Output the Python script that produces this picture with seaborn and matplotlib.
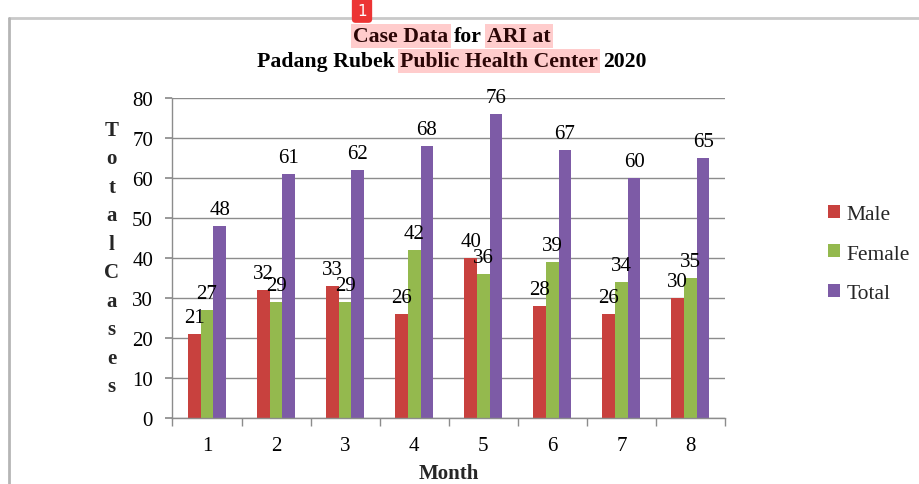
import numpy as np
import pandas as pd
import seaborn as sns
import matplotlib.pyplot as plt
from matplotlib.lines import Line2D
from matplotlib.ticker import MultipleLocator

# data
months = [1, 2, 3, 4, 5, 6, 7, 8]
male = [21, 32, 33, 26, 40, 28, 26, 30]
female = [27, 29, 29, 42, 36, 39, 34, 35]
total = [48, 61, 62, 68, 76, 67, 60, 65]
series_names = ['Male', 'Female', 'Total']
series_colors = ['#c8413e', '#94b94e', '#7d5ba6']

title_line1 = [('Case Data', True), ('for', False), ('ARI at', True)]
title_line2 = [('Padang Rubek', False), ('Public Health Center', True), ('2020', False)]
x_label = 'Month'
y_label = 'Total Cases'

df = pd.DataFrame({
    'month': months * 3,
    'series': sum([[n] * len(months) for n in series_names], []),
    'cases': male + female + total,
})

sns.set_theme(style='white')
plt.rcParams['font.family'] = ['Liberation Serif', 'DejaVu Serif']

W, H = 920, 485
fs = 15
fig = plt.figure(figsize=(W / 100, H / 100), dpi=100)
ax = fig.add_axes([172.5 / W, 1 - 419 / H, 552.5 / W, 320 / H])

sns.barplot(data=df, x='month', y='cases', hue='series', hue_order=series_names,
            palette=series_colors, width=0.55, saturation=1, linewidth=0, ax=ax)

for cont in ax.containers:
    ax.bar_label(cont, fontsize=fs, padding=5, color='black')

grey = '#8c8c8c'
ax.set_xlim(-0.5, len(months) - 0.5)
ax.set_ylim(0, 80)
ax.yaxis.set_major_locator(MultipleLocator(10))
ax.grid(axis='y', color=grey, lw=1)
ax.set_axisbelow(True)
for s in ['top', 'right']:
    ax.spines[s].set_visible(False)
for s in ['left', 'bottom']:
    ax.spines[s].set_color(grey)
    ax.spines[s].set_linewidth(1)

ax.set_xticks(np.arange(-0.5, len(months), 1), minor=True)
ax.tick_params(axis='x', which='major', length=0, pad=13, labelsize=fs, colors='black')
ax.tick_params(axis='x', which='minor', length=6, color=grey, direction='out', bottom=True)
ax.tick_params(axis='y', length=5, color=grey, direction='out', left=True,
               pad=9, labelsize=fs, colors='black')

ax.set_xlabel(x_label, fontsize=fs, fontweight='bold', labelpad=6)
ax.set_ylabel('\n'.join(y_label.replace(' ', '')), rotation=0, fontsize=fs,
              fontweight='bold', linespacing=1.57, va='center', ha='center')
ax.yaxis.set_label_coords(-0.11, 0.5)

handles, labels = ax.get_legend_handles_labels()
ax.legend(handles, labels, loc='center left', bbox_to_anchor=(828 / W, 1 - 255 / H),
          bbox_transform=fig.transFigure, frameon=False, fontsize=15.5,
          borderaxespad=0, borderpad=0,
          handlelength=0.55, handleheight=0.55, handletextpad=0.3, labelspacing=0.95)

# title with highlighted words, built piece by piece
renderer = fig.canvas.get_renderer()
tfont = dict(fontsize=15.7, fontweight='bold')


def text_width(s):
    t = fig.text(0, 0, s, **tfont)
    w = t.get_window_extent(renderer).width
    t.remove()
    return w


space = text_width('x x') - text_width('xx')


def title_line(pieces, yc, xc=452):
    widths = [text_width(p) for p, _ in pieces]
    full = sum(widths) + space * (len(pieces) - 1)
    x = xc - full / 2
    for (p, hl), w in zip(pieces, widths):
        kw = dict(tfont)
        if hl:
            kw['bbox'] = dict(boxstyle='square,pad=0.1', fc='#ffcccc', ec='none')
            kw['color'] = '#2b0606'
        else:
            kw['color'] = 'black'
        fig.text(x / W, 1 - yc / H, p, ha='left', va='center', **kw)
        x += w + space


title_line(title_line1, 37)
title_line(title_line2, 62)

# outer frame lines
fig.add_artist(Line2D([9.5 / W, 1], [1 - 19 / H] * 2, transform=fig.transFigure,
                      color='#c9c9c9', lw=2))
fig.add_artist(Line2D([9.5 / W] * 2, [0, 1 - 19 / H], transform=fig.transFigure,
                      color='#b5b5b5', lw=2))

# red badge
fig.text(362 / W, 1 - 11 / H, '1', ha='center', va='center', color='white',
         fontsize=11, family='DejaVu Sans',
         bbox=dict(boxstyle='round,pad=0.35,rounding_size=0.25', fc='#ec3434', ec='none'))

fig.savefig('out.png', dpi=100)
